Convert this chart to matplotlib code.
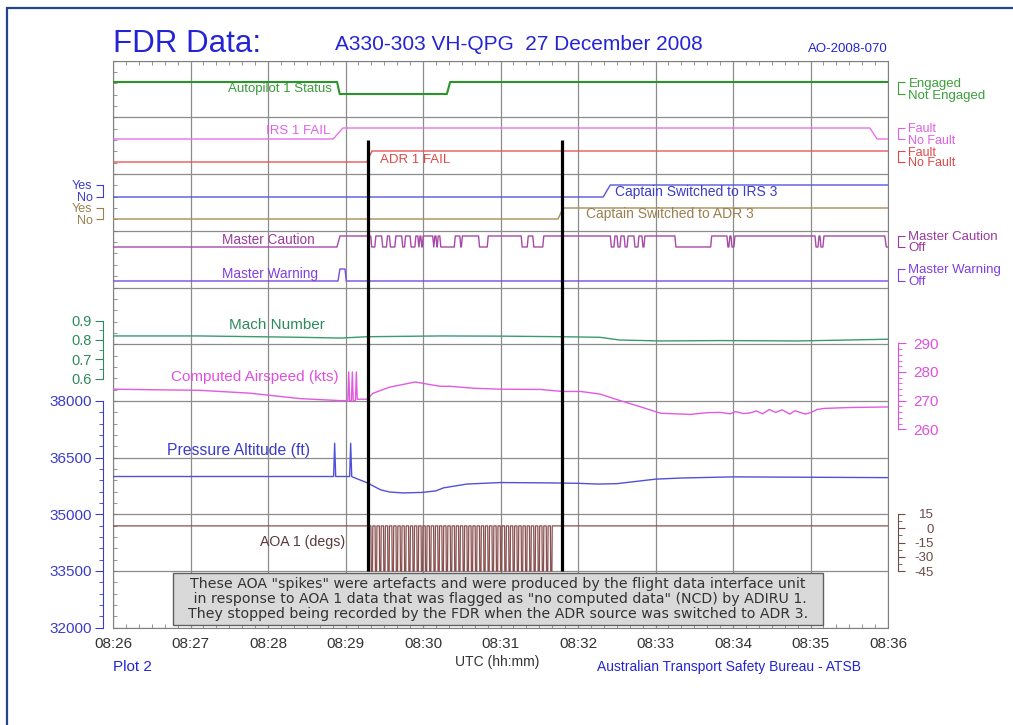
import numpy as np
import matplotlib.pyplot as plt
from matplotlib.patches import Rectangle
from matplotlib.ticker import FixedLocator, MultipleLocator

plt.rcParams['font.family'] = ['Liberation Sans', 'DejaVu Sans']

# x axis: seconds after 08:26:00 UTC
time_labels = ["08:26", "08:27", "08:28", "08:29", "08:30", "08:31",
               "08:32", "08:33", "08:34", "08:35", "08:36"]

# discrete parameters (time s, state 0/1)
ap_t = [0, 173.5, 175.5, 258.5, 261, 600]
ap_v = [1, 1, 0, 0, 1, 1]
irs1_t = [0, 170.5, 178, 586, 591.5, 600]
irs1_v = [0, 0, 1, 1, 0, 0]
adr1_t = [0, 196.5, 200.5, 600]
adr1_v = [0, 0, 1, 1]
irs3_t = [0, 379.5, 385, 600]
irs3_v = [0, 0, 1, 1]
adr3_t = [0, 344.5, 348.5, 600]
adr3_v = [0, 0, 1, 1]
mw_t = [0, 174.2, 175.7, 179.6, 180.6, 600]
mw_v = [0, 0, 1, 1, 0, 0]
mc_on = (173.4, 175.7)
mc_dips = [(199.5, 203.5), (208, 212.5), (214, 219), (223.5, 226.5), (230, 234.5),
           (236, 237.7), (238.3, 240.2), (247.5, 249.2), (250, 251.8), (253, 265),
           (268.5, 270.5), (283, 290.5), (316, 321.5), (325, 333.5), (385, 388.6),
           (390.2, 393.3), (395.7, 398.8), (403.3, 407.2), (409.5, 411.8), (435, 463.5),
           (475.3, 477.6), (478.4, 481.5), (543.5, 546.6), (547.3, 550.4)]
mc_off = 597.5

# continuous parameters
mach_t = [0, 67, 145, 176, 197, 253, 300, 348, 377, 392, 424, 470, 530, 570, 600]
mach_v = [0.821, 0.821, 0.814, 0.81, 0.817, 0.821, 0.82, 0.817, 0.814, 0.80,
          0.795, 0.797, 0.795, 0.80, 0.804]

cas_t = [0, 30, 67, 106, 145, 176, 181.8, 182.5, 183.2, 184.6, 185.3, 186.0,
         187.7, 188.4, 189.1, 197, 201, 214, 234, 253, 261, 280, 300, 331, 348,
         362, 377, 392, 408, 424, 447, 460, 470, 478, 482, 488, 493, 498, 503,
         508, 513, 518, 524, 528, 532, 536, 540, 545, 551, 571, 600]
cas_v = [274, 273.8, 273.6, 272.6, 270.7, 270, 270, 280, 270, 270, 280, 270,
         270, 280, 270.5, 270.5, 272.5, 274.7, 276.5, 275, 275, 274.3, 274, 273.9, 273.2,
         273.2, 272.3, 270.1, 267.9, 265.6, 265.2, 265.8, 265.9, 265.4, 266.2, 265.5, 265.7, 266.4, 265.4,
         266.9, 265.9, 266.8, 265.3, 266.5, 265.9, 265.3, 265.8, 266.9, 267.3, 267.6, 267.8]

alt_t = [0, 60, 120, 170.8, 171.6, 172.4, 183.2, 184.0, 184.8, 186, 197, 207,
         214, 225, 240, 250, 256, 274, 300, 340, 360, 375, 390, 405,
         420, 440, 480, 540, 600]
alt_v = [36000, 36000, 36000, 36000, 36880, 36000, 36000, 36880, 36000, 35980, 35830, 35650,
         35590, 35565, 35580, 35620, 35700, 35800, 35840, 35830, 35820, 35800, 35810, 35870,
         35930, 35960, 35990, 35980, 35970]

aoa_base = 2.5
aoa_spikes = [199.7, 202.9, 206.2, 209.4, 212.6, 215.9, 219.1, 222.3, 225.5, 228.8,
              232.0, 235.2, 238.5, 241.7, 244.9, 248.2, 251.4, 254.6, 257.8, 261.1,
              264.3, 267.5, 270.8, 274.0, 277.2, 280.4, 283.7, 286.9, 290.1, 293.4,
              296.6, 299.8, 303.1, 306.3, 309.5, 312.7, 316.0, 319.2, 322.4, 325.7,
              328.9, 332.1, 335.4, 338.6]

event_lines = [197.4, 347.6]

# build master caution trace
mc_t = [0, mc_on[0], mc_on[1]]
mc_v = [0, 0, 1]
for a, b in mc_dips:
    if b - a > 1.8:
        mc_t += [a, a + 0.8, b - 0.8, b]
        mc_v += [1, 0, 0, 1]
    else:
        mc_t += [a, (a + b) / 2, b]
        mc_v += [1, 0, 1]
mc_t += [mc_off, mc_off + 1.2, 600]
mc_v += [1, 0, 0]

# build AOA trace
aoa_t = [0]
aoa_v = [aoa_base]
for t in aoa_spikes:
    aoa_t += [t, t + 0.25, t + 1.2, t + 1.45]
    aoa_v += [aoa_base, -45, -45, aoa_base]
aoa_t.append(600)
aoa_v.append(aoa_base)

fig = plt.figure(figsize=(10.13, 7.25), dpi=100)
ax = fig.add_axes([113 / 1013, 97.3 / 725, 775 / 1013, 567 / 725])
ax.set_xlim(0, 600)
ax.set_ylim(0, 10)


def side_axis(side, ylim, bounds, ticks, labels, color, size, minor=None,
              length=5, pad=2.0):
    a = ax.twinx()
    a.set_ylim(*ylim)
    for s in a.spines.values():
        s.set_visible(False)
    sp = a.spines[side]
    sp.set_visible(True)
    sp.set_position(('outward', 7.2))
    sp.set_bounds(*bounds)
    sp.set_color(color)
    a.yaxis.set_ticks_position(side)
    a.set_yticks(ticks)
    a.set_yticklabels(labels)
    if minor is not None:
        a.yaxis.set_minor_locator(FixedLocator(minor))
    a.tick_params(axis='y', which='major', direction='out', length=length,
                  color=color, labelcolor=color, labelsize=size, pad=pad)
    a.tick_params(axis='y', which='minor', direction='out', length=3, color=color)
    return a


def discrete_axis(u0, u1, side, color, labels, size=9.0):
    h = u1 - u0
    return side_axis(side, (-u0 / h, (10 - u0) / h), (0, 1), [0, 1], labels,
                     color, size, pad=2.5)


def unit(ypx):
    return (627.7 - ypx) / 56.7


# discrete parameters
a = discrete_axis(unit(94), unit(82), 'right', '#3aa03a', ['Not Engaged', 'Engaged'], 9.5)
a.plot(ap_t, ap_v, color='#2a962a', lw=1.5)
a = discrete_axis(unit(139), unit(128), 'right', '#e060e8', ['No Fault', 'Fault'])
a.plot(irs1_t, irs1_v, color='#e870ec', lw=1.0)
a = discrete_axis(unit(162), unit(151), 'right', '#e04848', ['No Fault', 'Fault'])
a.plot(adr1_t, adr1_v, color='#e85858', lw=1.0)
a = discrete_axis(unit(197), unit(185), 'left', '#3c3cc8', ['No', 'Yes'])
a.plot(irs3_t, irs3_v, color='#5656e0', lw=1.0)
a = discrete_axis(unit(219), unit(208), 'left', '#9a8050', ['No', 'Yes'])
a.plot(adr3_t, adr3_v, color='#a88c58', lw=1.0)
a = discrete_axis(unit(247), unit(236), 'right', '#9a3a9a', ['Off', 'Master Caution'], 9.5)
a.plot(mc_t, mc_v, color='#a848a8', lw=1.0)
a = discrete_axis(unit(281), unit(269), 'right', '#8040e0', ['Off', 'Master Warning'], 9.5)
a.plot(mw_t, mw_v, color='#7c4ae0', lw=1.0)

# Mach
u6 = unit(378.6)
per = (unit(320.7) - u6) / 0.3
a = side_axis('left', (0.6 - u6 / per, 0.6 + (10 - u6) / per), (0.6, 0.9),
              [0.6, 0.7, 0.8, 0.9], ['0.6', '0.7', '0.8', '0.9'], '#2e8a5e', 10.5,
              minor=[0.65, 0.75, 0.85], length=6)
a.plot(mach_t, mach_v, color='#3a9a70', lw=1.0)

# Pressure altitude
a = side_axis('left', (32000, 47000), (32000, 38000),
              [32000, 33500, 35000, 36500, 38000],
              ['32000', '33500', '35000', '36500', '38000'], '#3c3cc8', 11,
              minor=list(range(32000, 38001, 300)), length=6)
a.plot(alt_t, alt_v, color='#5050d8', lw=1.0)

# Computed airspeed
u260 = unit(429.3)
per = (unit(343.3) - u260) / 30
a = side_axis('right', (260 - u260 / per, 260 + (10 - u260) / per), (260, 290),
              [260, 270, 280, 290], ['260', '270', '280', '290'], '#e050e0', 11,
              minor=list(range(260, 291, 2)), length=6, pad=5)
a.plot(cas_t, cas_v, color='#e458e4', lw=1.0)

# AOA
um45 = unit(571)
per = (unit(514) - um45) / 60
a = side_axis('right', (-45 - um45 / per, -45 + (10 - um45) / per), (-45, 15),
              [15, 0, -15, -30, -45], ['15', '0', '-15', '-30', '-45'], '#6a4a4a', 9.5,
              minor=[7.5, -7.5, -22.5, -37.5], length=5, pad=21)
for lbl in a.get_yticklabels():
    lbl.set_ha('right')
a.plot(aoa_t, aoa_v, color='#8a5050', lw=0.9)

# main frame, grid and time axis
ax.set_xticks(np.arange(0, 601, 60))
ax.set_xticklabels(time_labels)
ax.set_yticks(np.arange(0, 11))
ax.set_yticklabels([])
ax.xaxis.set_minor_locator(MultipleLocator(10))
ax.yaxis.set_minor_locator(MultipleLocator(0.2))
ax.tick_params(axis='x', which='major', length=0, pad=7, labelsize=11, labelcolor='#333333')
ax.tick_params(axis='x', which='minor', direction='in', top=True, bottom=True,
               length=3, color='#808080')
ax.tick_params(axis='y', which='both', direction='in', left=True, right=True,
               length=3, color='#808080')
ax.grid(True, which='major', color='#8c8c8c', lw=0.9)
for s in ax.spines.values():
    s.set_color('#808080')

# overlay: labels, event lines, note
top = ax.twinx()
top.set_ylim(0, 10)
top.axis('off')
top.vlines(event_lines, 1.0, unit(140), color='black', lw=2.3)

labels = [
    ("Autopilot 1 Status", 169.5, unit(89), 'right', '#3a9a3a', 9.5),
    ("IRS 1 FAIL", 168, unit(131), 'right', '#e060e8', 9.5),
    ("ADR 1 FAIL", 206.7, unit(160), 'left', '#e04848', 9.5),
    ("Captain Switched to IRS 3", 388.6, unit(192), 'left', '#3c3cc8', 10),
    ("Captain Switched to ADR 3", 366.2, unit(214), 'left', '#9a8050', 10),
    ("Master Caution", 156.4, unit(240), 'right', '#9a3a9a', 9.8),
    ("Master Warning", 158.7, unit(274), 'right', '#8040e0', 9.8),
    ("Mach Number", 127, unit(325), 'center', '#2e8a5e', 11),
    ("Computed Airspeed (kts)", 44.9, unit(377), 'left', '#e050e0', 11),
    ("Pressure Altitude (ft)", 41.8, unit(451), 'left', '#3c3cc8', 11.3),
    ("AOA 1 (degs)", 113.8, unit(542), 'left', '#5a3a3a', 10.2),
]
for txt, x, y, ha, c, fs in labels:
    top.text(x, y, txt, ha=ha, va='center', color=c, fontsize=fs)

top.add_patch(Rectangle((46.5, unit(625)), 503.5, unit(573) - unit(625),
                        facecolor='#d9d9d9', edgecolor='#606060', lw=1.0, zorder=5))
note = ('These AOA "spikes" were artefacts and were produced by the flight data interface unit\n'
        ' in response to AOA 1 data that was flagged as "no computed data" (NCD) by ADIRU 1.\n'
        'They stopped being recorded by the FDR when the ADR source was switched to ADR 3.')
top.text(298, unit(599), note, ha='center', va='center', fontsize=10.2,
         family='DejaVu Sans', color='#333333', linespacing=1.05, zorder=6)

# titles and footer
blue = '#2424d4'
fig.text(113 / 1013, 1 - 52 / 725, "FDR Data:", fontsize=22.5, color=blue, va='baseline')
fig.text(335 / 1013, 1 - 50 / 725, "A330-303 VH-QPG  27 December 2008", fontsize=15,
         color=blue, va='baseline')
fig.text(888 / 1013, 1 - 52 / 725, "AO-2008-070", fontsize=9.5, color=blue,
         ha='right', va='baseline')
fig.text(497 / 1013, 1 - 666 / 725, "UTC (hh:mm)", fontsize=10, color='#333333',
         ha='center', va='baseline')
fig.text(113 / 1013, 1 - 671 / 725, "Plot 2", fontsize=11, color=blue, va='baseline')
fig.text(597 / 1013, 1 - 671 / 725, "Australian Transport Safety Bureau - ATSB",
         fontsize=10, color=blue, va='baseline')

# outer frame (cut at right and bottom)
fig.add_artist(Rectangle((7 / 1013, -0.1), 2, 1 - 8 / 725 + 0.1, transform=fig.transFigure,
                         fill=False, edgecolor='#24448c', lw=1.6))

fig.savefig("out.png", dpi=100)
